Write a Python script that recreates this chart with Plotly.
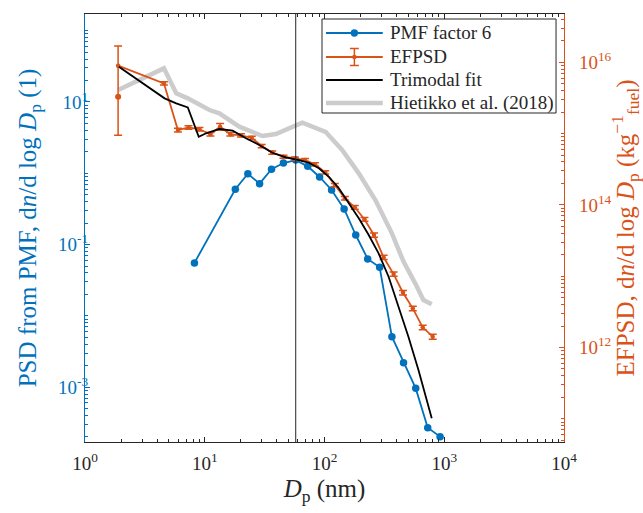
import numpy as np
import plotly.graph_objects as go

# ---------------- data ----------------
pmf_dp = [8.2, 18.0, 22.9, 28.7, 36.1, 45.4, 57.5, 72.4, 91, 114.6, 145.8, 182.4,
          229.4, 288.8, 365.4, 457, 578, 728, 923]
pmf_val = [0.0552, 0.596, 0.986, 0.714, 1.14, 1.39, 1.53, 1.25, 0.887, 0.583, 0.316,
           0.136, 0.0628, 0.048, 0.0051, 0.0022, 0.00096, 0.00027, 0.000202]

ef_dp = [1.89, 4.56, 5.97, 7.32, 9.03, 11.15, 13.43, 16.36, 20.09, 24.68, 29.9, 36.6,
         45.4, 56.4, 68.7, 83.2, 101.4, 122, 147.8, 179, 215.5, 259, 311.6, 377.6,
         452.8, 546, 661, 801]
ef_val = [8.95e15, 5.07e15, 1.12e15, 1.22e15, 1.15e15, 9.77e14, 1.25e15, 9.77e14,
          9.46e14, 8.73e14, 6.70e14, 5.42e14, 4.74e14, 4.47e14, 4.26e14, 3.71e14,
          2.86e14, 1.90e14, 1.24e14, 9.25e13, 6.28e13, 3.78e13, 1.84e13, 1.07e13,
          5.86e12, 3.54e12, 1.92e12, 1.42e12]
ef_err = [8.0e15, 2.5e14, 6.5e13, 7.0e13, 6.5e13, 5.5e13, 1.4e14, 5.5e13,
          5.0e13, 4.5e13, 3.5e13, 2.8e13, 2.4e13, 2.2e13, 2.1e13, 1.9e13,
          1.5e13, 1.0e13, 7.0e12, 5.5e12, 4.0e12, 2.5e12, 1.2e12, 7.5e11,
          4.2e11, 2.6e11, 1.4e11, 1.1e11]
ef_extra_dp = [1.89, 1.89]
ef_extra_val = [1.45e16, 8.95e15]
ef_dot_dp = [1.89]
ef_dot_val = [3.29e15]

fit_dp = [1.918, 2.52, 3.47, 4.62, 5.78, 7.22, 8.91, 10.27, 13.25, 17.09, 22.08, 28.5,
          36.7, 47.5, 61.3, 74.2, 89.8, 108.8, 131.8, 159.7, 193.3, 234, 283, 343,
          415, 502, 609, 786]
fit_val = [8.67e15, 6.28e15, 4.31e15, 3.12e15, 2.66e15, 2.33e15, 9.04e14, 1.01e15,
           1.16e15, 1.10e15, 8.59e14, 6.92e14, 5.39e14, 4.65e14, 4.26e14, 3.90e14,
           3.26e14, 2.48e14, 1.71e14, 1.05e14, 6.49e13, 3.78e13, 2.09e13, 9.84e12,
           3.73e12, 1.42e12, 4.83e11, 1.02e11]

hie_dp = [1.89, 4.56, 5.78, 7.22, 10.94, 13.25, 19.43, 30.3, 39.2, 61.3, 65.3, 102,
          140.3, 193.3, 266, 365.6, 457, 572, 670, 786]
hie_val = [4.08e15, 8.22e15, 3.67e15, 3.12e15, 2.14e15, 1.92e15, 1.25e15, 9.25e14,
           9.86e14, 1.39e15, 1.42e15, 1.06e15, 5.89e14, 2.77e14, 1.17e14, 3.99e13,
           1.60e13, 7.94e12, 4.63e12, 4.03e12]

vline_dp = 57.5

legend_labels = ["PMF factor 6", "EFPSD", "Trimodal fit", "Hietikko et al. (2018)"]

x_range_log = [0, 4]
yl_range_log = [-3.77, 2.234]
yr_range_log = [10.675, 16.677]

x_major = [0, 1, 2, 3, 4]
yl_major = [-3, -1, 1]
yr_major = [12, 14, 16]

BLUE = "#0072BD"
ORANGE = "#D95319"
GREY = "#CCCCCC"
DARK = "#262626"
FONT = "Liberation Serif"

W, H = 643, 513
ML, MR, MT, MB = 85, 77, 14, 71
PW, PH = W - ML - MR, H - MT - MB


def px(xp):
    return (xp - ML) / PW


def py(yp):
    return (H - MB - yp) / PH


def minors(lo, hi, majors):
    vals = []
    for d in range(int(np.floor(lo)) - 1, int(np.ceil(hi)) + 1):
        for k in range(1, 10):
            v = np.log10(k) + d
            if lo <= v <= hi and not any(abs(v - m) < 1e-9 for m in majors):
                vals.append(10 ** v)
    return vals


fig = go.Figure()

fig.add_trace(go.Scatter(x=hie_dp, y=hie_val, yaxis="y2", mode="lines",
                         line=dict(color=GREY, width=4.5), name=legend_labels[3]))
fig.add_trace(go.Scatter(x=ef_dp, y=ef_val, yaxis="y2", mode="lines+markers",
                         line=dict(color=ORANGE, width=1.8),
                         marker=dict(color=ORANGE, size=4.5),
                         error_y=dict(type="data", array=ef_err, symmetric=True,
                                      color=ORANGE, thickness=1.5, width=4),
                         name=legend_labels[1]))
fig.add_trace(go.Scatter(x=ef_extra_dp, y=ef_extra_val, yaxis="y2", mode="markers",
                         marker=dict(color="rgba(0,0,0,0)", size=9, symbol="circle-open",
                                     line=dict(color=ORANGE, width=1.3))))
fig.add_trace(go.Scatter(x=ef_dot_dp, y=ef_dot_val, yaxis="y2", mode="markers",
                         marker=dict(color=ORANGE, size=6)))
fig.add_trace(go.Scatter(x=fit_dp, y=fit_val, yaxis="y2", mode="lines",
                         line=dict(color="black", width=1.8), name=legend_labels[2]))
fig.add_trace(go.Scatter(x=pmf_dp, y=pmf_val, yaxis="y", mode="lines+markers",
                         line=dict(color=BLUE, width=1.8),
                         marker=dict(color=BLUE, size=7.5), name=legend_labels[0]))

fig.add_shape(type="line", xref="x", yref="paper", x0=vline_dp, x1=vline_dp, y0=0, y1=1,
              line=dict(color=DARK, width=1))

# ---------- legend box (drawn manually to match row spacing) ----------
shapes = []
annotations = []
shapes.append(dict(type="rect", xref="paper", yref="paper", x0=px(323), x1=px(558),
                   y0=py(113), y1=py(19), line=dict(color=DARK, width=1),
                   fillcolor="white", layer="above"))
rows = [33, 57, 80, 103]
lx0, lx1, lxm, tx = 327, 384, 355.5, 389
# row 1: PMF
shapes.append(dict(type="line", xref="paper", yref="paper", x0=px(lx0), x1=px(lx1),
                   y0=py(rows[0]), y1=py(rows[0]), line=dict(color=BLUE, width=1.8), layer="above"))
shapes.append(dict(type="circle", xref="paper", yref="paper", x0=px(lxm - 3.7), x1=px(lxm + 3.7),
                   y0=py(rows[0] + 3.7), y1=py(rows[0] - 3.7), fillcolor=BLUE,
                   line=dict(color=BLUE, width=0), layer="above"))
# row 2: EFPSD
shapes.append(dict(type="line", xref="paper", yref="paper", x0=px(lx0), x1=px(lx1),
                   y0=py(rows[1]), y1=py(rows[1]), line=dict(color=ORANGE, width=1.8), layer="above"))
shapes.append(dict(type="line", xref="paper", yref="paper", x0=px(lxm), x1=px(lxm),
                   y0=py(rows[1] - 8.5), y1=py(rows[1] + 8.5), line=dict(color=ORANGE, width=1.5), layer="above"))
for dy in (-8.5, 8.5):
    shapes.append(dict(type="line", xref="paper", yref="paper", x0=px(lxm - 4.5), x1=px(lxm + 4.5),
                       y0=py(rows[1] + dy), y1=py(rows[1] + dy), line=dict(color=ORANGE, width=1.5),
                       layer="above"))
shapes.append(dict(type="circle", xref="paper", yref="paper", x0=px(lxm - 2.3), x1=px(lxm + 2.3),
                   y0=py(rows[1] + 2.3), y1=py(rows[1] - 2.3), fillcolor=ORANGE,
                   line=dict(color=ORANGE, width=0), layer="above"))
# row 3: fit
shapes.append(dict(type="line", xref="paper", yref="paper", x0=px(lx0), x1=px(lx1),
                   y0=py(rows[2]), y1=py(rows[2]), line=dict(color="black", width=1.8), layer="above"))
# row 4: Hietikko
shapes.append(dict(type="line", xref="paper", yref="paper", x0=px(lx0), x1=px(lx1),
                   y0=py(rows[3]), y1=py(rows[3]), line=dict(color=GREY, width=4.5), layer="above"))
for r, lab in zip(rows, legend_labels):
    annotations.append(dict(xref="paper", yref="paper", x=px(tx), y=py(r), text=lab,
                            showarrow=False, xanchor="left", yanchor="middle",
                            font=dict(family=FONT, size=19, color=DARK)))


def sup(e):
    return "10<sup>%d</sup>" % e


TICKF = 19
TITLEF = 25

fig.update_layout(
    width=W, height=H,
    margin=dict(l=ML, r=MR, t=MT, b=MB),
    paper_bgcolor="white", plot_bgcolor="white",
    font=dict(family=FONT, size=TICKF, color=DARK),
    showlegend=False,
    shapes=fig.layout.shapes + tuple(shapes),
    annotations=annotations,
    xaxis=dict(type="log", range=x_range_log, showgrid=False, zeroline=False,
               showline=True, linecolor=DARK, linewidth=1, mirror="ticks",
               ticks="inside", ticklen=5, tickcolor=DARK,
               tickvals=[10 ** e for e in x_major], ticktext=[sup(e) for e in x_major],
               tickfont=dict(family=FONT, size=TICKF, color=DARK),
               ticklabelstandoff=4,
               minor=dict(tickvals=minors(0, 4, x_major), ticks="inside", ticklen=3,
                          tickcolor=DARK, showgrid=False),
               title=dict(text="<i>D</i><sub>p</sub> (nm)", standoff=6,
                          font=dict(family=FONT, size=TITLEF, color=DARK))),
    yaxis=dict(type="log", range=yl_range_log, showgrid=False, zeroline=False,
               showline=True, linecolor=BLUE, linewidth=1.2,
               ticks="inside", ticklen=5, tickcolor=BLUE,
               tickvals=[10 ** e for e in yl_major], ticktext=[sup(e) for e in yl_major],
               tickfont=dict(family=FONT, size=TICKF, color=BLUE),
               ticklabelstandoff=-8,
               minor=dict(tickvals=minors(yl_range_log[0], yl_range_log[1], yl_major),
                          ticks="inside", ticklen=3, tickcolor=BLUE, showgrid=False),
               title=dict(text="PSD from PMF, d<i>n</i>/d log <i>D</i><sub>p</sub> (1)",
                          standoff=14, font=dict(family=FONT, size=TITLEF, color=BLUE))),
    yaxis2=dict(type="log", range=yr_range_log, overlaying="y", side="right",
                showgrid=False, zeroline=False,
                showline=True, linecolor=ORANGE, linewidth=1.2,
                ticks="inside", ticklen=5, tickcolor=ORANGE,
                tickvals=[10 ** e for e in yr_major], ticktext=[sup(e) for e in yr_major],
                tickfont=dict(family=FONT, size=TICKF, color=ORANGE),
                ticklabelstandoff=10,
                minor=dict(tickvals=minors(yr_range_log[0], yr_range_log[1], yr_major),
                           ticks="inside", ticklen=3, tickcolor=ORANGE, showgrid=False),
                title=dict(text="EFPSD, d<i>n</i>/d log <i>D</i><sub>p</sub> (kg<sup>−1</sup><sub>fuel</sub>)",
                           standoff=2, font=dict(family=FONT, size=TITLEF, color=ORANGE))),
)

fig.write_html("out.html")
